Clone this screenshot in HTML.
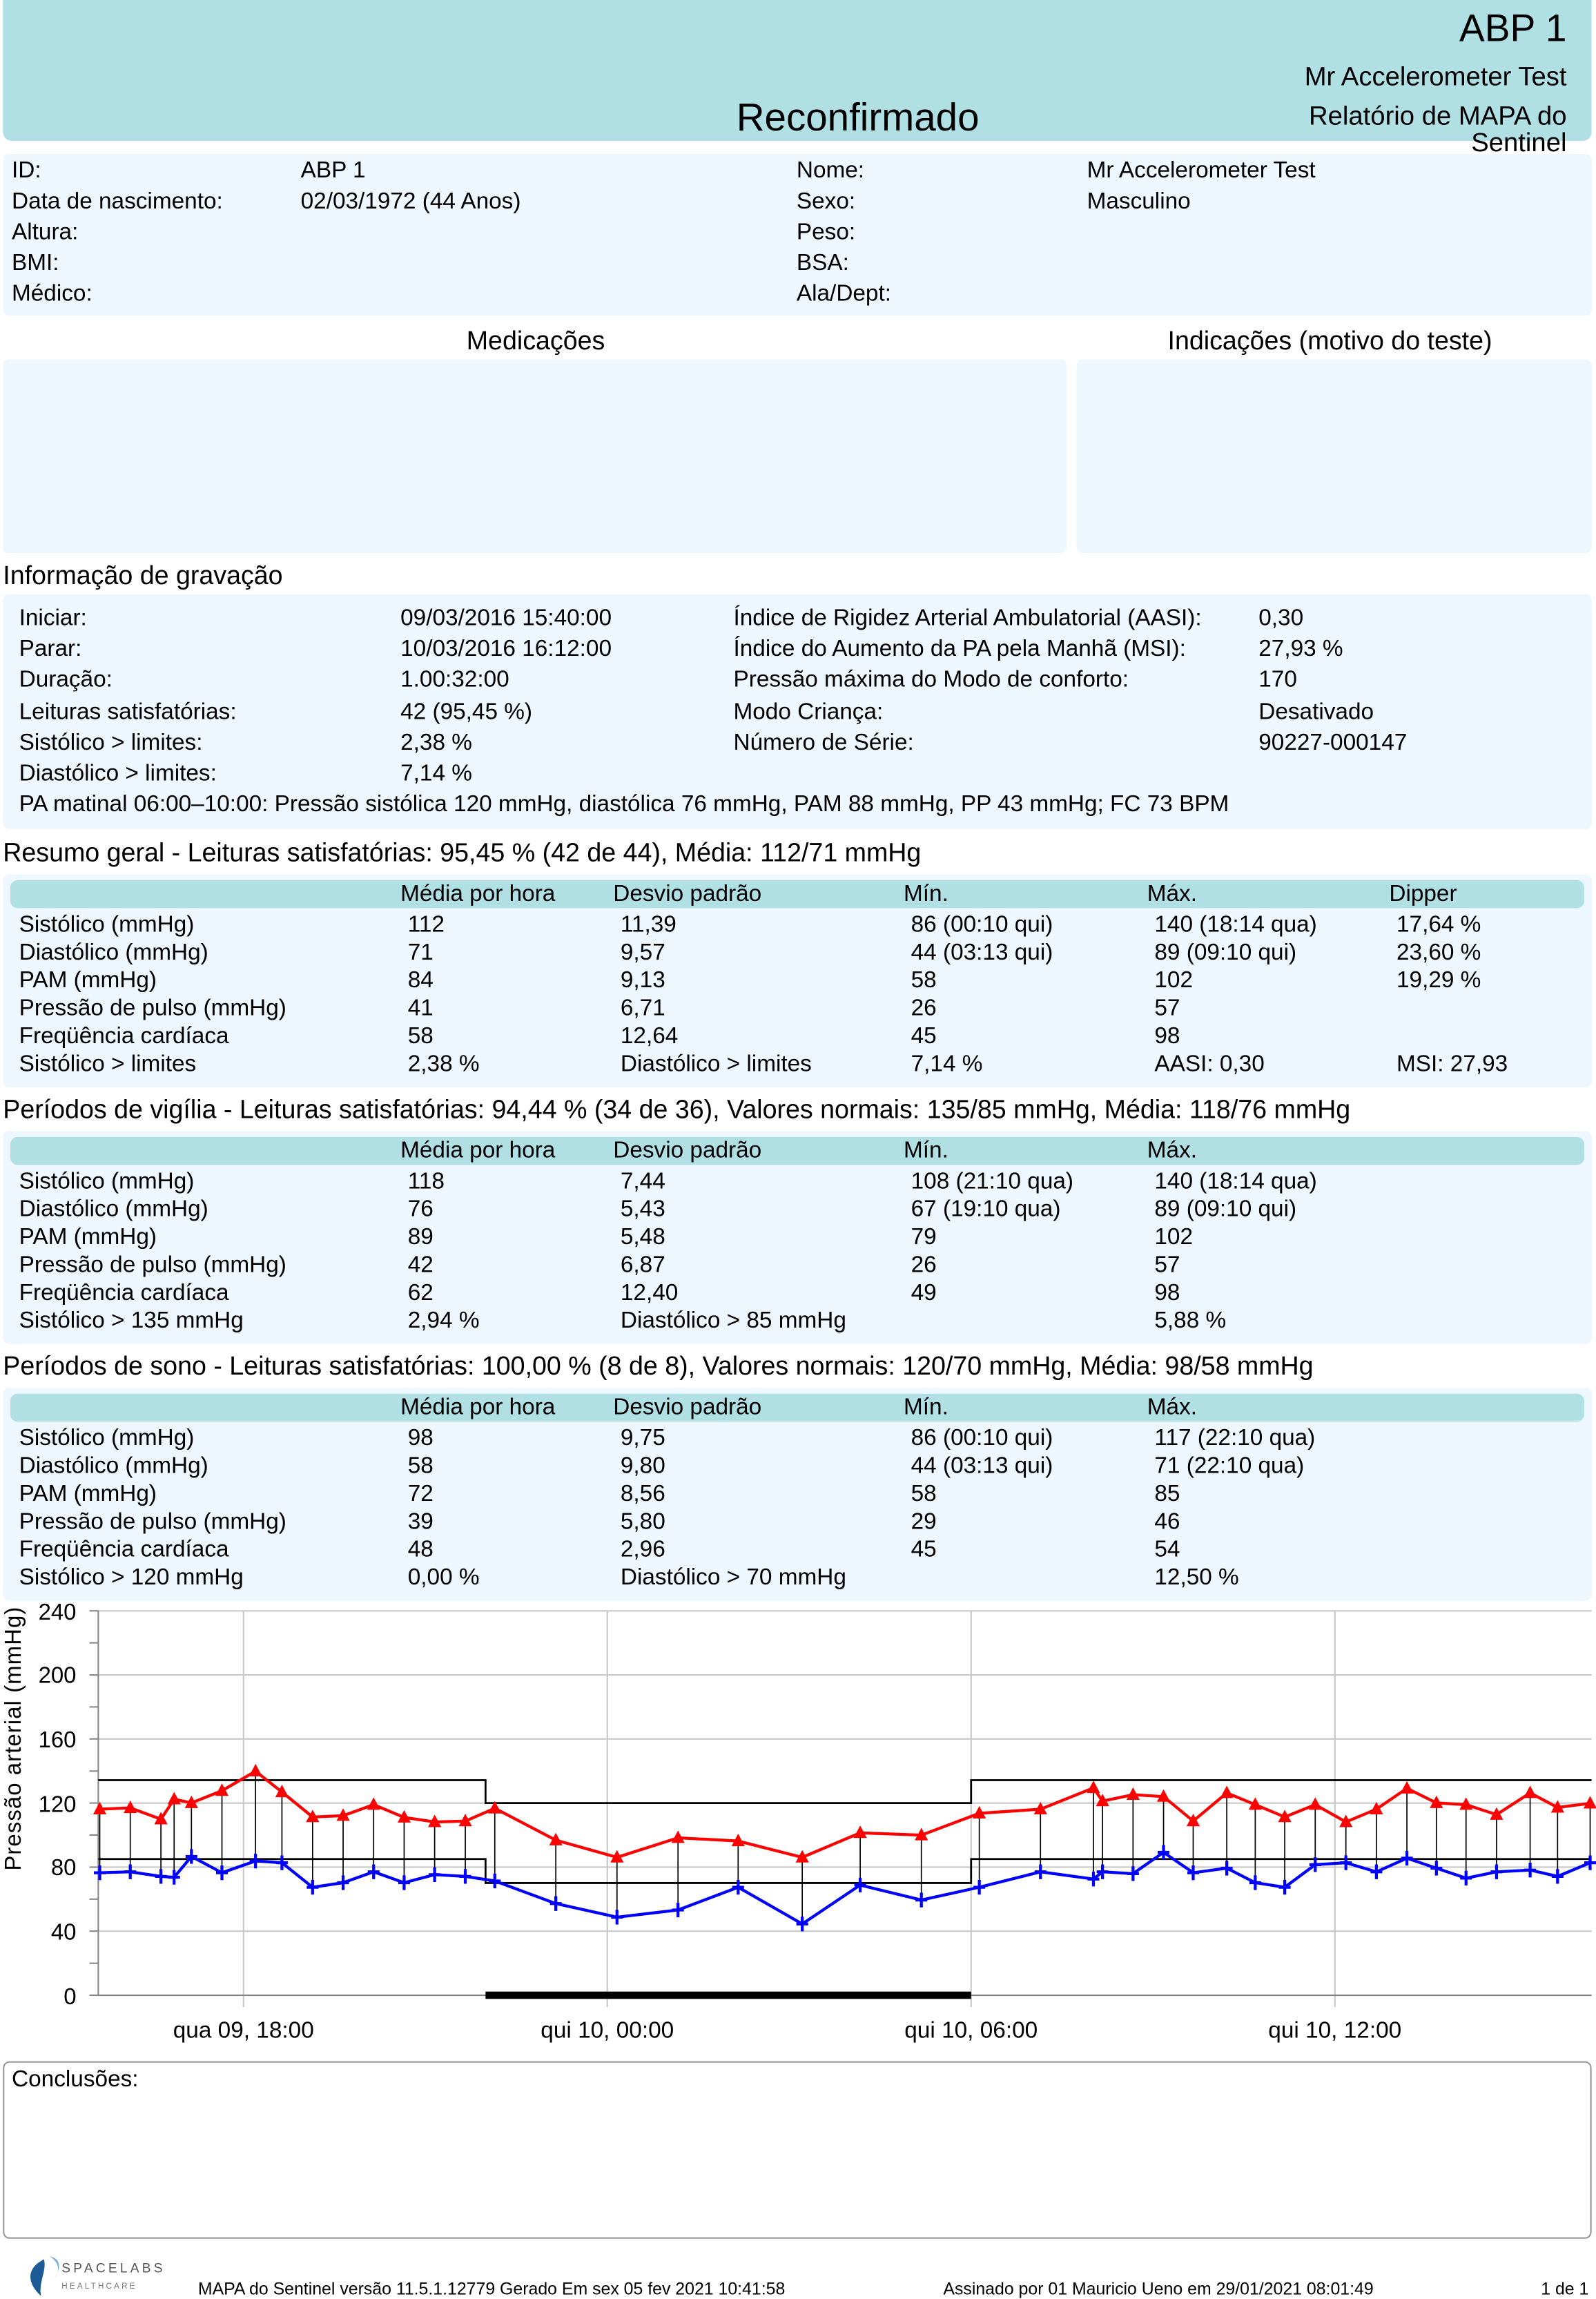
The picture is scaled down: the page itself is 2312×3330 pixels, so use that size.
<!DOCTYPE html>
<html><head><meta charset="utf-8"><style>
html,body{margin:0;padding:0;background:#fff;}
body{width:2312px;height:3330px;overflow:hidden;}
#w{position:absolute;left:0;top:0;width:1088px;height:1567px;transform:scale(2.125);transform-origin:0 0;font-family:"Liberation Sans",sans-serif;color:#000;}
.a{position:absolute;white-space:nowrap;font-size:15.7px;line-height:16px;margin-top:1px;}
.box{position:absolute;background:#eef6fe;border-radius:4px;}
.bar{position:absolute;background:#b0dfe4;border-radius:5px;}
.h{font-size:17.7px;line-height:18px;}
</style></head><body><div id="w">
<div style="position:absolute;left:2px;top:0;width:1083px;height:96px;background:#b0dfe4;border-radius:0 0 6px 6px"></div>
<div class="a" style="right:20px;top:4px;font-size:26px;line-height:28px">ABP 1</div>
<div class="a" style="right:20px;top:41px;font-size:18px;line-height:20px">Mr Accelerometer Test</div>
<div class="a" style="right:20px;top:69px;font-size:18px;line-height:18px;text-align:right">Relatório de MAPA do<br>Sentinel</div>
<div class="a" style="left:502px;top:65px;font-size:26.6px;line-height:28px">Reconfirmado</div>

<div class="box" style="left:2px;top:105px;width:1083px;height:110px"></div>
<div class="a" style="left:8px;top:108px">ID:</div><div class="a" style="left:205px;top:108px">ABP 1</div>
<div class="a" style="left:543px;top:108px">Nome:</div><div class="a" style="left:741px;top:108px">Mr Accelerometer Test</div>
<div class="a" style="left:8px;top:129px">Data de nascimento:</div><div class="a" style="left:205px;top:129px">02/03/1972 (44 Anos)</div>
<div class="a" style="left:543px;top:129px">Sexo:</div><div class="a" style="left:741px;top:129px">Masculino</div>
<div class="a" style="left:8px;top:150px">Altura:</div><div class="a" style="left:543px;top:150px">Peso:</div>
<div class="a" style="left:8px;top:171px">BMI:</div><div class="a" style="left:543px;top:171px">BSA:</div>
<div class="a" style="left:8px;top:192px">Médico:</div><div class="a" style="left:543px;top:192px">Ala/Dept:</div>

<div class="a h" style="left:318px;top:222px">Medicações</div>
<div class="a h" style="left:796px;top:222px">Indicações (motivo do teste)</div>
<div class="box" style="left:2px;top:245px;width:725px;height:132px"></div>
<div class="box" style="left:734px;top:245px;width:351px;height:132px"></div>

<div class="a h" style="left:2px;top:382px">Informação de gravação</div>
<div class="box" style="left:2px;top:405px;width:1083px;height:160px"></div>
<div class="a" style="left:13px;top:413px">Iniciar:</div><div class="a" style="left:273px;top:413px">09/03/2016 15:40:00</div><div class="a" style="left:500px;top:413px">Índice de Rigidez Arterial Ambulatorial (AASI):</div><div class="a" style="left:858px;top:413px">0,30</div>
<div class="a" style="left:13px;top:434px">Parar:</div><div class="a" style="left:273px;top:434px">10/03/2016 16:12:00</div><div class="a" style="left:500px;top:434px">Índice do Aumento da PA pela Manhã (MSI):</div><div class="a" style="left:858px;top:434px">27,93 %</div>
<div class="a" style="left:13px;top:455px">Duração:</div><div class="a" style="left:273px;top:455px">1.00:32:00</div><div class="a" style="left:500px;top:455px">Pressão máxima do Modo de conforto:</div><div class="a" style="left:858px;top:455px">170</div>
<div class="a" style="left:13px;top:477px">Leituras satisfatórias:</div><div class="a" style="left:273px;top:477px">42 (95,45 %)</div><div class="a" style="left:500px;top:477px">Modo Criança:</div><div class="a" style="left:858px;top:477px">Desativado</div>
<div class="a" style="left:13px;top:498px">Sistólico &gt; limites:</div><div class="a" style="left:273px;top:498px">2,38 %</div><div class="a" style="left:500px;top:498px">Número de Série:</div><div class="a" style="left:858px;top:498px">90227-000147</div>
<div class="a" style="left:13px;top:519px">Diastólico &gt; limites:</div><div class="a" style="left:273px;top:519px">7,14 %</div>
<div class="a" style="left:13px;top:540px">PA matinal 06:00–10:00: Pressão sistólica 120 mmHg, diastólica 76 mmHg, PAM 88 mmHg, PP 43 mmHg; FC 73 BPM</div>

<!-- Resumo -->
<div class="a h" style="left:2px;top:571px">Resumo geral - Leituras satisfatórias: 95,45 % (42 de 44), Média: 112/71 mmHg</div>
<div class="box" style="left:2px;top:596px;width:1083px;height:145px"></div>
<div class="bar" style="left:7px;top:600px;width:1073px;height:19px"></div>
<div class="a" style="left:273px;top:601px">Média por hora</div><div class="a" style="left:418px;top:601px">Desvio padrão</div><div class="a" style="left:616px;top:601px">Mín.</div><div class="a" style="left:782px;top:601px">Máx.</div><div class="a" style="left:947px;top:601px">Dipper</div>
<div class="a" style="left:13px;top:622px">Sistólico (mmHg)</div><div class="a" style="left:278px;top:622px">112</div><div class="a" style="left:423px;top:622px">11,39</div><div class="a" style="left:621px;top:622px">86 (00:10 qui)</div><div class="a" style="left:787px;top:622px">140 (18:14 qua)</div><div class="a" style="left:952px;top:622px">17,64 %</div>
<div class="a" style="left:13px;top:641px">Diastólico (mmHg)</div><div class="a" style="left:278px;top:641px">71</div><div class="a" style="left:423px;top:641px">9,57</div><div class="a" style="left:621px;top:641px">44 (03:13 qui)</div><div class="a" style="left:787px;top:641px">89 (09:10 qui)</div><div class="a" style="left:952px;top:641px">23,60 %</div>
<div class="a" style="left:13px;top:660px">PAM (mmHg)</div><div class="a" style="left:278px;top:660px">84</div><div class="a" style="left:423px;top:660px">9,13</div><div class="a" style="left:621px;top:660px">58</div><div class="a" style="left:787px;top:660px">102</div><div class="a" style="left:952px;top:660px">19,29 %</div>
<div class="a" style="left:13px;top:679px">Pressão de pulso (mmHg)</div><div class="a" style="left:278px;top:679px">41</div><div class="a" style="left:423px;top:679px">6,71</div><div class="a" style="left:621px;top:679px">26</div><div class="a" style="left:787px;top:679px">57</div>
<div class="a" style="left:13px;top:698px">Freqüência cardíaca</div><div class="a" style="left:278px;top:698px">58</div><div class="a" style="left:423px;top:698px">12,64</div><div class="a" style="left:621px;top:698px">45</div><div class="a" style="left:787px;top:698px">98</div>
<div class="a" style="left:13px;top:717px">Sistólico &gt; limites</div><div class="a" style="left:278px;top:717px">2,38 %</div><div class="a" style="left:423px;top:717px">Diastólico &gt; limites</div><div class="a" style="left:621px;top:717px">7,14 %</div><div class="a" style="left:787px;top:717px">AASI: 0,30</div><div class="a" style="left:952px;top:717px">MSI: 27,93</div>

<!-- Vigilia -->
<div class="a h" style="left:2px;top:746px">Períodos de vigília - Leituras satisfatórias: 94,44 % (34 de 36), Valores normais: 135/85 mmHg, Média: 118/76 mmHg</div>
<div class="box" style="left:2px;top:771px;width:1083px;height:145px"></div>
<div class="bar" style="left:7px;top:775px;width:1073px;height:19px"></div>
<div class="a" style="left:273px;top:776px">Média por hora</div><div class="a" style="left:418px;top:776px">Desvio padrão</div><div class="a" style="left:616px;top:776px">Mín.</div><div class="a" style="left:782px;top:776px">Máx.</div>
<div class="a" style="left:13px;top:797px">Sistólico (mmHg)</div><div class="a" style="left:278px;top:797px">118</div><div class="a" style="left:423px;top:797px">7,44</div><div class="a" style="left:621px;top:797px">108 (21:10 qua)</div><div class="a" style="left:787px;top:797px">140 (18:14 qua)</div>
<div class="a" style="left:13px;top:816px">Diastólico (mmHg)</div><div class="a" style="left:278px;top:816px">76</div><div class="a" style="left:423px;top:816px">5,43</div><div class="a" style="left:621px;top:816px">67 (19:10 qua)</div><div class="a" style="left:787px;top:816px">89 (09:10 qui)</div>
<div class="a" style="left:13px;top:835px">PAM (mmHg)</div><div class="a" style="left:278px;top:835px">89</div><div class="a" style="left:423px;top:835px">5,48</div><div class="a" style="left:621px;top:835px">79</div><div class="a" style="left:787px;top:835px">102</div>
<div class="a" style="left:13px;top:854px">Pressão de pulso (mmHg)</div><div class="a" style="left:278px;top:854px">42</div><div class="a" style="left:423px;top:854px">6,87</div><div class="a" style="left:621px;top:854px">26</div><div class="a" style="left:787px;top:854px">57</div>
<div class="a" style="left:13px;top:873px">Freqüência cardíaca</div><div class="a" style="left:278px;top:873px">62</div><div class="a" style="left:423px;top:873px">12,40</div><div class="a" style="left:621px;top:873px">49</div><div class="a" style="left:787px;top:873px">98</div>
<div class="a" style="left:13px;top:892px">Sistólico &gt; 135 mmHg</div><div class="a" style="left:278px;top:892px">2,94 %</div><div class="a" style="left:423px;top:892px">Diastólico &gt; 85 mmHg</div><div class="a" style="left:787px;top:892px">5,88 %</div>

<!-- Sono -->
<div class="a h" style="left:2px;top:921px">Períodos de sono - Leituras satisfatórias: 100,00 % (8 de 8), Valores normais: 120/70 mmHg, Média: 98/58 mmHg</div>
<div class="box" style="left:2px;top:946px;width:1083px;height:145px"></div>
<div class="bar" style="left:7px;top:950px;width:1073px;height:19px"></div>
<div class="a" style="left:273px;top:951px">Média por hora</div><div class="a" style="left:418px;top:951px">Desvio padrão</div><div class="a" style="left:616px;top:951px">Mín.</div><div class="a" style="left:782px;top:951px">Máx.</div>
<div class="a" style="left:13px;top:972px">Sistólico (mmHg)</div><div class="a" style="left:278px;top:972px">98</div><div class="a" style="left:423px;top:972px">9,75</div><div class="a" style="left:621px;top:972px">86 (00:10 qui)</div><div class="a" style="left:787px;top:972px">117 (22:10 qua)</div>
<div class="a" style="left:13px;top:991px">Diastólico (mmHg)</div><div class="a" style="left:278px;top:991px">58</div><div class="a" style="left:423px;top:991px">9,80</div><div class="a" style="left:621px;top:991px">44 (03:13 qui)</div><div class="a" style="left:787px;top:991px">71 (22:10 qua)</div>
<div class="a" style="left:13px;top:1010px">PAM (mmHg)</div><div class="a" style="left:278px;top:1010px">72</div><div class="a" style="left:423px;top:1010px">8,56</div><div class="a" style="left:621px;top:1010px">58</div><div class="a" style="left:787px;top:1010px">85</div>
<div class="a" style="left:13px;top:1029px">Pressão de pulso (mmHg)</div><div class="a" style="left:278px;top:1029px">39</div><div class="a" style="left:423px;top:1029px">5,80</div><div class="a" style="left:621px;top:1029px">29</div><div class="a" style="left:787px;top:1029px">46</div>
<div class="a" style="left:13px;top:1048px">Freqüência cardíaca</div><div class="a" style="left:278px;top:1048px">48</div><div class="a" style="left:423px;top:1048px">2,96</div><div class="a" style="left:621px;top:1048px">45</div><div class="a" style="left:787px;top:1048px">54</div>
<div class="a" style="left:13px;top:1067px">Sistólico &gt; 120 mmHg</div><div class="a" style="left:278px;top:1067px">0,00 %</div><div class="a" style="left:423px;top:1067px">Diastólico &gt; 70 mmHg</div><div class="a" style="left:787px;top:1067px">12,50 %</div>

<!-- Chart -->
<svg style="position:absolute;left:0;top:0" width="1088" height="1567" viewBox="0 0 1088 1567" font-family="Liberation Sans, sans-serif">
<defs>
<path id="tri" d="M0,-5 L4.5,3.5 L-4.5,3.5 Z" fill="#f00"/>
<path id="pl" d="M-4,0 H4 M0,-5 V5" stroke="#00f" stroke-width="2" fill="none"/>
</defs>
<g stroke="#c8c8c8" stroke-width="1">
<line x1="67" y1="1098" x2="1085" y2="1098"/><line x1="67" y1="1141.7" x2="1085" y2="1141.7"/><line x1="67" y1="1185.3" x2="1085" y2="1185.3"/><line x1="67" y1="1229" x2="1085" y2="1229"/><line x1="67" y1="1272.7" x2="1085" y2="1272.7"/><line x1="67" y1="1316.3" x2="1085" y2="1316.3"/>
<line x1="166" y1="1098" x2="166" y2="1368"/><line x1="414" y1="1098" x2="414" y2="1368"/><line x1="662" y1="1098" x2="662" y2="1368"/><line x1="910" y1="1098" x2="910" y2="1368"/>
</g>
<g stroke="#888" stroke-width="1">
<line x1="67" y1="1098" x2="67" y2="1360"/><line x1="67" y1="1360" x2="1085" y2="1360"/>
<line x1="61" y1="1098" x2="67" y2="1098"/><line x1="61" y1="1119.8" x2="67" y2="1119.8"/><line x1="61" y1="1141.7" x2="67" y2="1141.7"/><line x1="61" y1="1163.5" x2="67" y2="1163.5"/><line x1="61" y1="1185.3" x2="67" y2="1185.3"/><line x1="61" y1="1207.2" x2="67" y2="1207.2"/><line x1="61" y1="1229" x2="67" y2="1229"/><line x1="61" y1="1250.8" x2="67" y2="1250.8"/><line x1="61" y1="1272.7" x2="67" y2="1272.7"/><line x1="61" y1="1294.5" x2="67" y2="1294.5"/><line x1="61" y1="1316.3" x2="67" y2="1316.3"/><line x1="61" y1="1338.2" x2="67" y2="1338.2"/><line x1="61" y1="1360" x2="67" y2="1360"/>
</g>
<g font-size="15.5" text-anchor="end">
<text x="52" y="1104">240</text><text x="52" y="1147">200</text><text x="52" y="1191">160</text><text x="52" y="1235">120</text><text x="52" y="1278">80</text><text x="52" y="1322">40</text><text x="52" y="1366">0</text>
</g>
<text transform="translate(14,1185) rotate(-90)" font-size="15.5" text-anchor="middle" letter-spacing="0.5">Pressão arterial (mmHg)</text>
<g font-size="15.7" text-anchor="middle">
<text x="166" y="1389">qua 09, 18:00</text><text x="414" y="1389">qui 10, 00:00</text><text x="662" y="1389">qui 10, 06:00</text><text x="910" y="1389">qui 10, 12:00</text>
</g>
<path d="M67,1213.4 H331 V1229 H662 V1213.4 H1085 M67,1267.2 H331 V1283.5 H662 V1267.2 H1085" stroke="#000" stroke-width="1.3" fill="none"/>
<rect x="331" y="1357.5" width="331" height="5" fill="#000"/>
<g stroke="#000" stroke-width="0.8">
<line x1="68" y1="1233.2" x2="68" y2="1276.5"/><line x1="88.8" y1="1232.3" x2="88.8" y2="1275.9"/><line x1="109.7" y1="1240" x2="109.7" y2="1279"/><line x1="118.7" y1="1226.4" x2="118.7" y2="1279.6"/><line x1="130.5" y1="1228.9" x2="130.5" y2="1265.4"/><line x1="151.3" y1="1220.6" x2="151.3" y2="1276.5"/><line x1="174.2" y1="1207.3" x2="174.2" y2="1268.5"/><line x1="192.2" y1="1221.5" x2="192.2" y2="1269.7"/><line x1="213.1" y1="1238.5" x2="213.1" y2="1286.4"/><line x1="233.9" y1="1237.6" x2="233.9" y2="1283.3"/><line x1="254.7" y1="1230.1" x2="254.7" y2="1275.9"/><line x1="275.5" y1="1238.8" x2="275.5" y2="1283.3"/><line x1="296.3" y1="1241.9" x2="296.3" y2="1277.8"/><line x1="317.2" y1="1241.3" x2="317.2" y2="1279"/><line x1="337.3" y1="1232.6" x2="337.3" y2="1282.1"/><line x1="378.9" y1="1254.3" x2="378.9" y2="1297.5"/><line x1="420.6" y1="1266" x2="420.6" y2="1306.8"/><line x1="462.2" y1="1252.7" x2="462.2" y2="1301.9"/><line x1="503.2" y1="1254.9" x2="503.2" y2="1286.4"/><line x1="546.9" y1="1266" x2="546.9" y2="1311.4"/><line x1="586.4" y1="1249.3" x2="586.4" y2="1284.9"/><line x1="628.1" y1="1250.9" x2="628.1" y2="1295.1"/><line x1="667.6" y1="1236" x2="667.6" y2="1286.4"/><line x1="709.3" y1="1233.2" x2="709.3" y2="1275.9"/><line x1="745.4" y1="1218.7" x2="745.4" y2="1280.8"/><line x1="751.6" y1="1227.7" x2="751.6" y2="1275.9"/><line x1="772.4" y1="1223.3" x2="772.4" y2="1277.1"/><line x1="793.2" y1="1224.6" x2="793.2" y2="1262.6"/><line x1="813.4" y1="1241.3" x2="813.4" y2="1276.5"/><line x1="836.3" y1="1222.1" x2="836.3" y2="1273.4"/><line x1="855.7" y1="1230.1" x2="855.7" y2="1283.3"/><line x1="875.8" y1="1238.5" x2="875.8" y2="1286.4"/><line x1="896.6" y1="1230.1" x2="896.6" y2="1271"/><line x1="917.5" y1="1241.9" x2="917.5" y2="1269.7"/><line x1="938.3" y1="1233.2" x2="938.3" y2="1275.9"/><line x1="959.1" y1="1219" x2="959.1" y2="1266.6"/><line x1="979.2" y1="1228.9" x2="979.2" y2="1273.4"/><line x1="999.4" y1="1230.1" x2="999.4" y2="1280.2"/><line x1="1020.2" y1="1236.9" x2="1020.2" y2="1275.9"/><line x1="1043.1" y1="1222.1" x2="1043.1" y2="1274.7"/><line x1="1061.8" y1="1232" x2="1061.8" y2="1279"/><line x1="1084" y1="1229.2" x2="1084" y2="1269.7"/>
</g>
<polyline fill="none" stroke="#f00" stroke-width="2" points="68,1233.2 88.8,1232.3 109.7,1240 118.7,1226.4 130.5,1228.9 151.3,1220.6 174.2,1207.3 192.2,1221.5 213.1,1238.5 233.9,1237.6 254.7,1230.1 275.5,1238.8 296.3,1241.9 317.2,1241.3 337.3,1232.6 378.9,1254.3 420.6,1266 462.2,1252.7 503.2,1254.9 546.9,1266 586.4,1249.3 628.1,1250.9 667.6,1236 709.3,1233.2 745.4,1218.7 751.6,1227.7 772.4,1223.3 793.2,1224.6 813.4,1241.3 836.3,1222.1 855.7,1230.1 875.8,1238.5 896.6,1230.1 917.5,1241.9 938.3,1233.2 959.1,1219 979.2,1228.9 999.4,1230.1 1020.2,1236.9 1043.1,1222.1 1061.8,1232 1084,1229.2"/>
<polyline fill="none" stroke="#00f" stroke-width="2" points="68,1276.5 88.8,1275.9 109.7,1279 118.7,1279.6 130.5,1265.4 151.3,1276.5 174.2,1268.5 192.2,1269.7 213.1,1286.4 233.9,1283.3 254.7,1275.9 275.5,1283.3 296.3,1277.8 317.2,1279 337.3,1282.1 378.9,1297.5 420.6,1306.8 462.2,1301.9 503.2,1286.4 546.9,1311.4 586.4,1284.9 628.1,1295.1 667.6,1286.4 709.3,1275.9 745.4,1280.8 751.6,1275.9 772.4,1277.1 793.2,1262.6 813.4,1276.5 836.3,1273.4 855.7,1283.3 875.8,1286.4 896.6,1271 917.5,1269.7 938.3,1275.9 959.1,1266.6 979.2,1273.4 999.4,1280.2 1020.2,1275.9 1043.1,1274.7 1061.8,1279 1084,1269.7"/>
<g>
<use href="#tri" x="68" y="1233.2"/><use href="#tri" x="88.8" y="1232.3"/><use href="#tri" x="109.7" y="1240"/><use href="#tri" x="118.7" y="1226.4"/><use href="#tri" x="130.5" y="1228.9"/><use href="#tri" x="151.3" y="1220.6"/><use href="#tri" x="174.2" y="1207.3"/><use href="#tri" x="192.2" y="1221.5"/><use href="#tri" x="213.1" y="1238.5"/><use href="#tri" x="233.9" y="1237.6"/><use href="#tri" x="254.7" y="1230.1"/><use href="#tri" x="275.5" y="1238.8"/><use href="#tri" x="296.3" y="1241.9"/><use href="#tri" x="317.2" y="1241.3"/><use href="#tri" x="337.3" y="1232.6"/><use href="#tri" x="378.9" y="1254.3"/><use href="#tri" x="420.6" y="1266"/><use href="#tri" x="462.2" y="1252.7"/><use href="#tri" x="503.2" y="1254.9"/><use href="#tri" x="546.9" y="1266"/><use href="#tri" x="586.4" y="1249.3"/><use href="#tri" x="628.1" y="1250.9"/><use href="#tri" x="667.6" y="1236"/><use href="#tri" x="709.3" y="1233.2"/><use href="#tri" x="745.4" y="1218.7"/><use href="#tri" x="751.6" y="1227.7"/><use href="#tri" x="772.4" y="1223.3"/><use href="#tri" x="793.2" y="1224.6"/><use href="#tri" x="813.4" y="1241.3"/><use href="#tri" x="836.3" y="1222.1"/><use href="#tri" x="855.7" y="1230.1"/><use href="#tri" x="875.8" y="1238.5"/><use href="#tri" x="896.6" y="1230.1"/><use href="#tri" x="917.5" y="1241.9"/><use href="#tri" x="938.3" y="1233.2"/><use href="#tri" x="959.1" y="1219"/><use href="#tri" x="979.2" y="1228.9"/><use href="#tri" x="999.4" y="1230.1"/><use href="#tri" x="1020.2" y="1236.9"/><use href="#tri" x="1043.1" y="1222.1"/><use href="#tri" x="1061.8" y="1232"/><use href="#tri" x="1084" y="1229.2"/>
<use href="#pl" x="68" y="1276.5"/><use href="#pl" x="88.8" y="1275.9"/><use href="#pl" x="109.7" y="1279"/><use href="#pl" x="118.7" y="1279.6"/><use href="#pl" x="130.5" y="1265.4"/><use href="#pl" x="151.3" y="1276.5"/><use href="#pl" x="174.2" y="1268.5"/><use href="#pl" x="192.2" y="1269.7"/><use href="#pl" x="213.1" y="1286.4"/><use href="#pl" x="233.9" y="1283.3"/><use href="#pl" x="254.7" y="1275.9"/><use href="#pl" x="275.5" y="1283.3"/><use href="#pl" x="296.3" y="1277.8"/><use href="#pl" x="317.2" y="1279"/><use href="#pl" x="337.3" y="1282.1"/><use href="#pl" x="378.9" y="1297.5"/><use href="#pl" x="420.6" y="1306.8"/><use href="#pl" x="462.2" y="1301.9"/><use href="#pl" x="503.2" y="1286.4"/><use href="#pl" x="546.9" y="1311.4"/><use href="#pl" x="586.4" y="1284.9"/><use href="#pl" x="628.1" y="1295.1"/><use href="#pl" x="667.6" y="1286.4"/><use href="#pl" x="709.3" y="1275.9"/><use href="#pl" x="745.4" y="1280.8"/><use href="#pl" x="751.6" y="1275.9"/><use href="#pl" x="772.4" y="1277.1"/><use href="#pl" x="793.2" y="1262.6"/><use href="#pl" x="813.4" y="1276.5"/><use href="#pl" x="836.3" y="1273.4"/><use href="#pl" x="855.7" y="1283.3"/><use href="#pl" x="875.8" y="1286.4"/><use href="#pl" x="896.6" y="1271"/><use href="#pl" x="917.5" y="1269.7"/><use href="#pl" x="938.3" y="1275.9"/><use href="#pl" x="959.1" y="1266.6"/><use href="#pl" x="979.2" y="1273.4"/><use href="#pl" x="999.4" y="1280.2"/><use href="#pl" x="1020.2" y="1275.9"/><use href="#pl" x="1043.1" y="1274.7"/><use href="#pl" x="1061.8" y="1279"/><use href="#pl" x="1084" y="1269.7"/>
</g>
<rect x="2.5" y="1405.5" width="1082" height="120" rx="4" fill="#fff" stroke="#999" stroke-width="1"/>
<text x="8" y="1422" font-size="15.7">Conclusões:</text>
<path d="M30,1540 C18,1546 18,1556 28,1565 C26,1556 32,1548 30,1540 Z" fill="#1d5b96"/>
<path d="M34,1538 C44,1540 40,1550 36,1554 C42,1548 40,1542 34,1538 Z" fill="#7fb2d8"/>
<text x="42" y="1549" font-size="9" fill="#555" letter-spacing="2">SPACELABS</text>
<text x="42" y="1560" font-size="5.5" fill="#777" letter-spacing="1.5">HEALTHCARE</text>
<text x="135" y="1564" font-size="11.7">MAPA do Sentinel versão 11.5.1.12779  Gerado Em sex 05 fev 2021 10:41:58</text>
<text x="643" y="1564" font-size="11.7">Assinado por 01 Mauricio Ueno em 29/01/2021 08:01:49</text>
<text x="1083" y="1564" font-size="11.7" text-anchor="end">1 de 1</text>
</svg>
</div></body></html>
